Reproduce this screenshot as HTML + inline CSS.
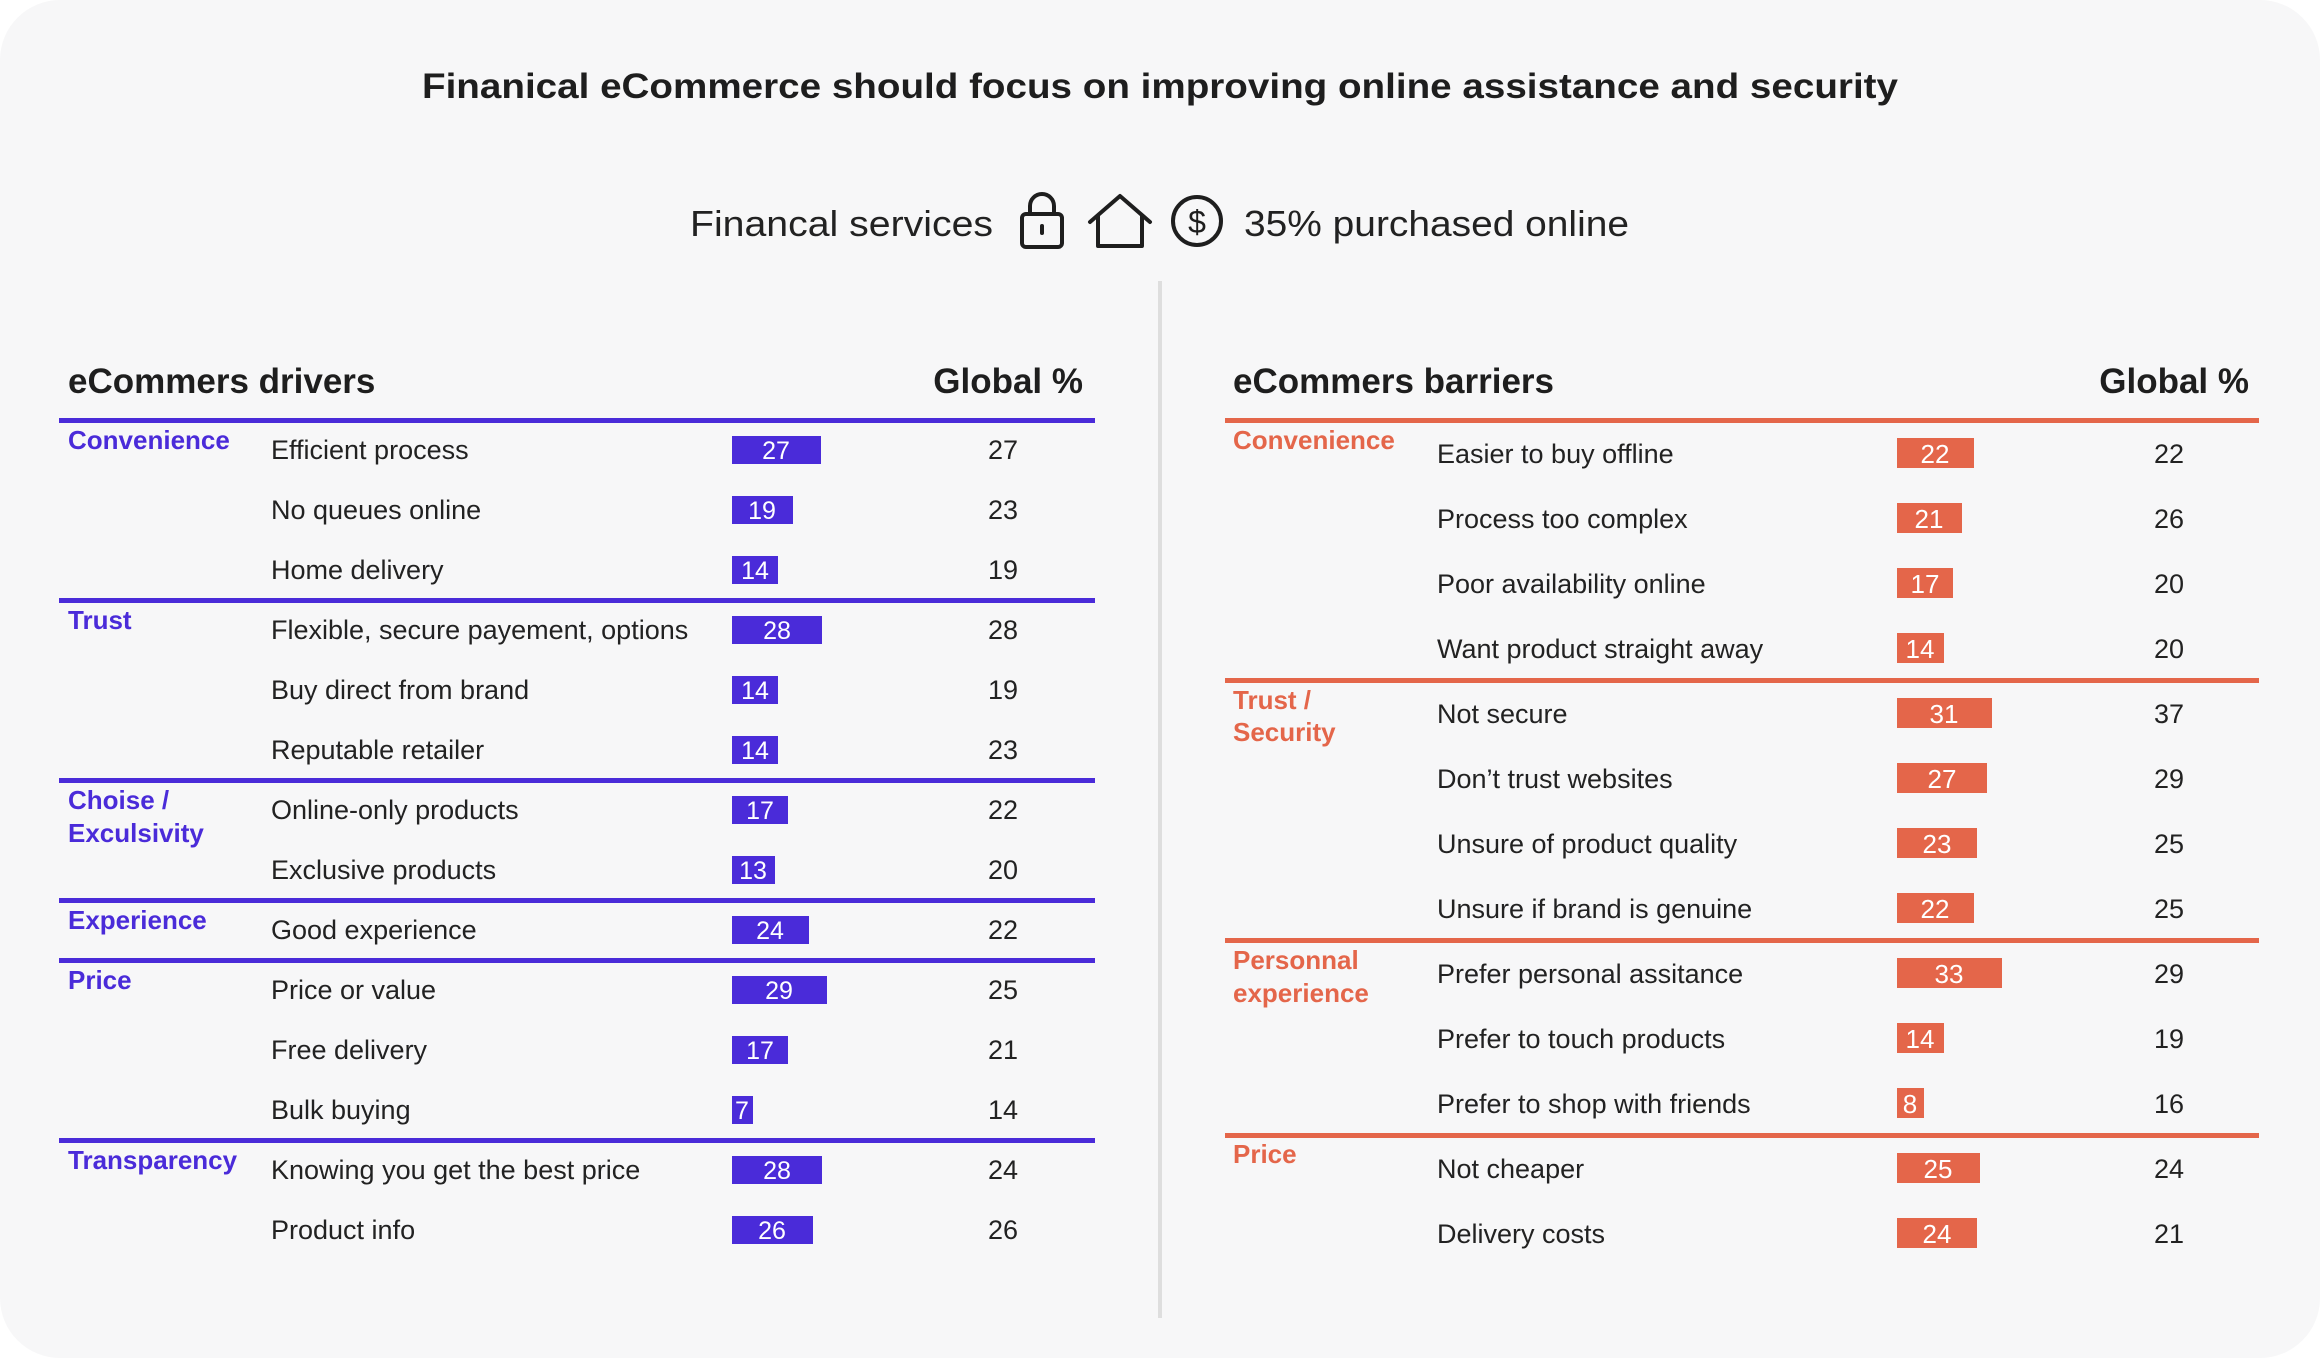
<!DOCTYPE html>
<html><head><meta charset="utf-8"><style>
html,body{margin:0;padding:0;background:#fff;}
svg{display:block;}
text{font-family:"Liberation Sans",sans-serif;}
</style></head><body>
<svg width="2320" height="1360" viewBox="0 0 2320 1360" xmlns="http://www.w3.org/2000/svg">
<rect x="0" y="0" width="2320" height="1358" rx="60" fill="#f7f7f8"/>
<text x="1160" y="98" text-anchor="middle" font-size="35" font-weight="bold" fill="#1e1e1e" textLength="1476" lengthAdjust="spacingAndGlyphs">Finanical eCommerce should focus on improving online assistance and security</text>
<text x="690" y="236" font-size="36" fill="#222" textLength="303" lengthAdjust="spacingAndGlyphs">Financal services</text>
<g fill="none" stroke="#1e1e1e" stroke-width="4" stroke-linejoin="round" stroke-linecap="round">
<rect x="1022" y="214" width="40" height="33" rx="4"/>
<path d="M1030 214 v-8 a12 12 0 0 1 24 0 v8"/>
<line x1="1042" y1="226" x2="1042" y2="233"/>
<path d="M1090 222 L1120 196 L1150 222 M1098 216 V246 H1142 V216"/>
<circle cx="1197" cy="221" r="24"/>
</g>
<text x="1197" y="233" text-anchor="middle" font-size="32" fill="#1e1e1e">$</text>
<text x="1244" y="236" font-size="36" fill="#222" textLength="385" lengthAdjust="spacingAndGlyphs">35% purchased online</text>
<line x1="1160" y1="281" x2="1160" y2="1318" stroke="#dedede" stroke-width="4"/>

<!-- LEFT -->
<text x="68" y="393" font-size="35" font-weight="bold" fill="#1e1e1e">eCommers drivers</text>
<text x="1083" y="393" text-anchor="end" font-size="35" font-weight="bold" fill="#1e1e1e">Global %</text>
<g fill="#4a2bd9">
<rect x="59" y="418" width="1036" height="5"/><rect x="59" y="598" width="1036" height="5"/>
<rect x="59" y="778" width="1036" height="5"/><rect x="59" y="898" width="1036" height="5"/>
<rect x="59" y="958" width="1036" height="5"/><rect x="59" y="1138" width="1036" height="5"/>
</g>
<g font-size="26" font-weight="bold" fill="#4a2bd9">
<text x="68" y="449">Convenience</text>
<text x="68" y="629">Trust</text>
<text x="68" y="809">Choise /</text>
<text x="68" y="842">Exculsivity</text>
<text x="68" y="929">Experience</text>
<text x="68" y="989">Price</text>
<text x="68" y="1169">Transparency</text>
</g>
<g font-size="27" fill="#222">
<text x="271" y="459">Efficient process</text>
<text x="271" y="519">No queues online</text>
<text x="271" y="579">Home delivery</text>
<text x="271" y="639">Flexible, secure payement, options</text>
<text x="271" y="699">Buy direct from brand</text>
<text x="271" y="759">Reputable retailer</text>
<text x="271" y="819">Online-only products</text>
<text x="271" y="879">Exclusive products</text>
<text x="271" y="939">Good experience</text>
<text x="271" y="999">Price or value</text>
<text x="271" y="1059">Free delivery</text>
<text x="271" y="1119">Bulk buying</text>
<text x="271" y="1179">Knowing you get the best price</text>
<text x="271" y="1239">Product info</text>
</g>
<g fill="#4a2bd9">
<rect x="732" y="436" width="89" height="28"/>
<rect x="732" y="496" width="61" height="28"/>
<rect x="732" y="556" width="46" height="28"/>
<rect x="732" y="616" width="90" height="28"/>
<rect x="732" y="676" width="46" height="28"/>
<rect x="732" y="736" width="46" height="28"/>
<rect x="732" y="796" width="56" height="28"/>
<rect x="732" y="856" width="43" height="28"/>
<rect x="732" y="916" width="77" height="28"/>
<rect x="732" y="976" width="95" height="28"/>
<rect x="732" y="1036" width="56" height="28"/>
<rect x="732" y="1096" width="21" height="28"/>
<rect x="732" y="1156" width="90" height="28"/>
<rect x="732" y="1216" width="81" height="28"/>
</g>
<g font-size="25" fill="#fff" text-anchor="middle">
<text x="776" y="459">27</text><text x="762" y="519">19</text><text x="755" y="579">14</text>
<text x="777" y="639">28</text><text x="755" y="699">14</text><text x="755" y="759">14</text>
<text x="760" y="819">17</text><text x="753" y="879">13</text><text x="770" y="939">24</text>
<text x="779" y="999">29</text><text x="760" y="1059">17</text><text x="742" y="1119">7</text>
<text x="777" y="1179">28</text><text x="772" y="1239">26</text>
</g>
<g font-size="27" fill="#222" text-anchor="middle">
<text x="1003" y="459">27</text><text x="1003" y="519">23</text><text x="1003" y="579">19</text>
<text x="1003" y="639">28</text><text x="1003" y="699">19</text><text x="1003" y="759">23</text>
<text x="1003" y="819">22</text><text x="1003" y="879">20</text><text x="1003" y="939">22</text>
<text x="1003" y="999">25</text><text x="1003" y="1059">21</text><text x="1003" y="1119">14</text>
<text x="1003" y="1179">24</text><text x="1003" y="1239">26</text>
</g>

<!-- RIGHT -->
<text x="1233" y="393" font-size="35" font-weight="bold" fill="#1e1e1e">eCommers barriers</text>
<text x="2249" y="393" text-anchor="end" font-size="35" font-weight="bold" fill="#1e1e1e">Global %</text>
<g fill="#e4664a">
<rect x="1225" y="418" width="1034" height="5"/><rect x="1225" y="678" width="1034" height="5"/>
<rect x="1225" y="938" width="1034" height="5"/><rect x="1225" y="1133" width="1034" height="5"/>
</g>
<g font-size="26" font-weight="bold" fill="#e4664a">
<text x="1233" y="449">Convenience</text>
<text x="1233" y="709">Trust /</text>
<text x="1233" y="741">Security</text>
<text x="1233" y="969">Personnal</text>
<text x="1233" y="1002">experience</text>
<text x="1233" y="1163">Price</text>
</g>
<g font-size="27" fill="#222">
<text x="1437" y="463">Easier to buy offline</text>
<text x="1437" y="528">Process too complex</text>
<text x="1437" y="593">Poor availability online</text>
<text x="1437" y="658">Want product straight away</text>
<text x="1437" y="723">Not secure</text>
<text x="1437" y="788">Don’t trust websites</text>
<text x="1437" y="853">Unsure of product quality</text>
<text x="1437" y="918">Unsure if brand is genuine</text>
<text x="1437" y="983">Prefer personal assitance</text>
<text x="1437" y="1048">Prefer to touch products</text>
<text x="1437" y="1113">Prefer to shop with friends</text>
<text x="1437" y="1178">Not cheaper</text>
<text x="1437" y="1243">Delivery costs</text>
</g>
<g fill="#e4664a">
<rect x="1897" y="438" width="77" height="30"/>
<rect x="1897" y="503" width="65" height="30"/>
<rect x="1897" y="568" width="56" height="30"/>
<rect x="1897" y="633" width="47" height="30"/>
<rect x="1897" y="698" width="95" height="30"/>
<rect x="1897" y="763" width="90" height="30"/>
<rect x="1897" y="828" width="80" height="30"/>
<rect x="1897" y="893" width="77" height="30"/>
<rect x="1897" y="958" width="105" height="30"/>
<rect x="1897" y="1023" width="47" height="30"/>
<rect x="1897" y="1088" width="27" height="30"/>
<rect x="1897" y="1153" width="83" height="30"/>
<rect x="1897" y="1218" width="80" height="30"/>
</g>
<g font-size="26" fill="#fff" text-anchor="middle">
<text x="1935" y="463">22</text><text x="1929" y="528">21</text><text x="1925" y="593">17</text>
<text x="1920" y="658">14</text><text x="1944" y="723">31</text><text x="1942" y="788">27</text>
<text x="1937" y="853">23</text><text x="1935" y="918">22</text><text x="1949" y="983">33</text>
<text x="1920" y="1048">14</text><text x="1910" y="1113">8</text><text x="1938" y="1178">25</text>
<text x="1937" y="1243">24</text>
</g>
<g font-size="27" fill="#222" text-anchor="middle">
<text x="2169" y="463">22</text><text x="2169" y="528">26</text><text x="2169" y="593">20</text>
<text x="2169" y="658">20</text><text x="2169" y="723">37</text><text x="2169" y="788">29</text>
<text x="2169" y="853">25</text><text x="2169" y="918">25</text><text x="2169" y="983">29</text>
<text x="2169" y="1048">19</text><text x="2169" y="1113">16</text><text x="2169" y="1178">24</text>
<text x="2169" y="1243">21</text>
</g>
</svg>
</body></html>
